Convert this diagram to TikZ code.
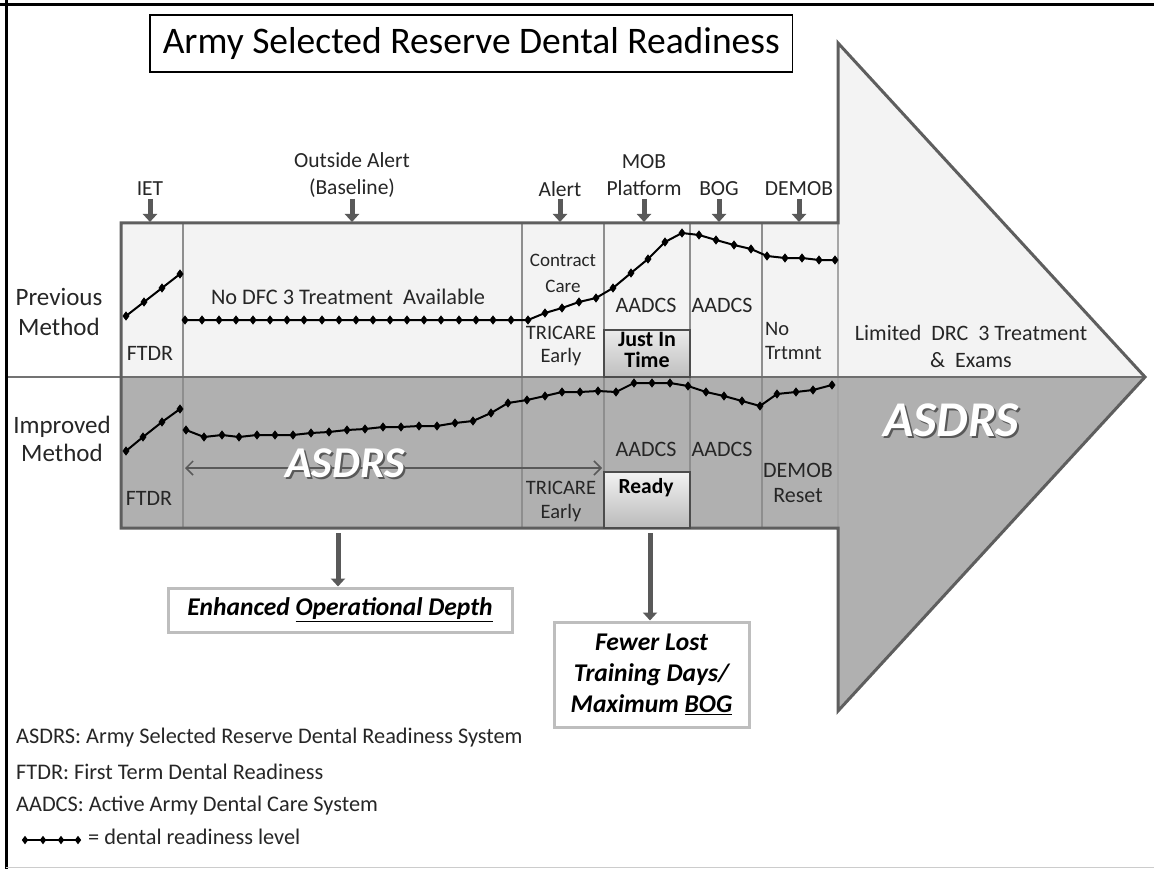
\documentclass[tikz,border=0pt]{standalone}
\usepackage{fontspec}
\setmainfont{Carlito}
\usetikzlibrary{arrows.meta,plotmarks}
\definecolor{lightband}{HTML}{F3F3F3}
\definecolor{darkband}{HTML}{B0B0B0}
\definecolor{outl}{HTML}{5E5E5E}
\definecolor{divc}{HTML}{8E8E8E}
\definecolor{arrc}{HTML}{595959}
\definecolor{boxb}{HTML}{BEBEBE}
\tikzset{
  toplbl/.style={font=\fontsize{21.5}{27}\selectfont, align=center, inner sep=0pt, text=black!85},
  celllbl/.style={font=\fontsize{22}{25}\selectfont, align=center, inner sep=0pt, text=black!85},
  sidelbl/.style={font=\fontsize{25}{30}\selectfont, align=center, inner sep=0pt, text=black!85},
  legendtxt/.style={font=\fontsize{22.3}{25}\selectfont, anchor=west, inner sep=0pt, text=black!85},
  downarr/.style={draw=arrc, line width=5pt, -{Triangle[length=8pt,width=14pt]}},
  bigwhite/.style={font=\fontsize{#1}{#1}\selectfont\bfseries\itshape, text=white, inner sep=0pt},
  shadowtxt/.style={font=\fontsize{#1}{#1}\selectfont\bfseries\itshape, text=black!65, inner sep=0pt},
  plotline/.style={line width=2pt, black, mark size=4.2pt, mark options={fill=black, draw=black, line width=0.5pt}},
  outbox/.style={draw=boxb, line width=3pt, fill=white, inner sep=0pt, font=\fontsize{25.5}{31}\selectfont\bfseries\itshape, align=center},
  shadebox/.style={draw=black!70, line width=1.5pt, top color=white!92!black, bottom color=black!25, inner sep=0pt},
  boldlbl/.style={font=\fontsize{22}{21}\selectfont\bfseries, align=center, inner sep=0pt}
}
\begin{document}
\begin{tikzpicture}[x=1pt,y=-1pt]
\fill[white] (0,0) rectangle (1154,869);
\useasboundingbox (0,0) rectangle (1154,869);
% slide frame
\draw[black, line width=3pt] (0,5) -- (1154,5);
\draw[black, line width=3pt] (6,0) -- (6,869);
\draw[black!20, line width=1pt] (6,867) -- (1154,867);
% title
\node[draw=black, line width=1.5pt, minimum height=57pt, inner ysep=0pt, inner xsep=13pt, anchor=west,
      font=\fontsize{37.5}{40}\selectfont] (title) at (149,43.5) {Army Selected Reserve Dental Readiness};
% coordinates
\coordinate (bandtop) at (0,222);
\coordinate (arrtop) at (0,199);
\coordinate (bandbot) at (0,533);
% fills
\fill[lightband] (121,223) rectangle (838,377);
\fill[lightband] (838,43) -- (1145,377) -- (838,377) -- cycle;
\fill[darkband] (121,377) rectangle (838,528);
\fill[darkband] (838,377) -- (1145,377) -- (838,711) -- cycle;
% dividers
\foreach \x in {183,522,604,690,762}{\draw[divc, line width=1.3pt] (\x,223) -- (\x,528);}
\draw[black!35, line width=1.2pt] (838,223) -- (838,528);
\draw[black!55, line width=1.5pt] (8,377) -- (121,377);
\draw[outl!90, line width=2pt] (121,377) -- (1145,377);
% outline
\draw[outl, line width=3pt, line join=miter] (121,223) -- (838,223) -- (838,43) -- (1145,377) -- (838,711) -- (838,528) -- (121,528) -- cycle;
% shaded boxes
\node[shadebox, minimum width=86pt, minimum height=47pt] (jit) at (647,353.5) {};
\node[boldlbl] (jittxt) at (647,350) {Just In\\Time};
\node[shadebox, minimum width=86pt, minimum height=56pt, top color=white!95!black, bottom color=black!27] (ready) at (647,500) {};
\node[boldlbl, font=\fontsize{21.5}{21}\selectfont\bfseries] (readytxt) at (646,488) {Ready};
% top labels and arrows
\node[toplbl] (iet) at (150,189) {IET};
\node[toplbl] (outside) at (352,175.5) {Outside Alert\\(Baseline)};
\node[toplbl] (alert) at (560,189) {Alert};
\node[toplbl] (mob) at (644,175.5) {MOB\\Platform};
\node[toplbl] (bog) at (719,189) {BOG};
\node[toplbl] (demob) at (799,189) {DEMOB};
\foreach \n in {iet,outside,alert,mob,bog,demob}{
  \draw[downarr] (\n.south |- arrtop) -- (\n.south |- bandtop);
}
% side labels
\node[sidelbl] (prev) at (59,312) {Previous\\Method};
\node[sidelbl, font=\fontsize{25}{28}\selectfont] (impr) at (62,439) {Improved\\Method};
% top band texts
\node[celllbl] (ftdrA) at (150,353) {FTDR};
\node[celllbl, font=\fontsize{22.3}{25}\selectfont] (nodfc) at (348,297) {No DFC 3 Treatment\ \ Available};
\node[celllbl, font=\fontsize{19}{26}\selectfont] (contract) at (563,273) {Contract\\Care};
\node[celllbl, font=\fontsize{20.5}{23}\selectfont] (tricareA) at (561,346) {TRICARE\\Early};
\node[celllbl] (aadcsA) at (646,305) {AADCS};
\node[celllbl] (aadcsB) at (722,305) {AADCS};
\node[celllbl, align=left, anchor=west, font=\fontsize{20.5}{24}\selectfont] (notrt) at (765,341) {No\\Trtmnt};
\node[celllbl, font=\fontsize{22}{27}\selectfont] (limited) at (971,346) {Limited\ \ DRC\ \ 3 Treatment\\\&\ \ Exams};
% bottom band texts
\node[celllbl] (ftdrB) at (149,498) {FTDR};
\node[celllbl] (aadcsC) at (646,449) {AADCS};
\node[celllbl] (aadcsD) at (722,449) {AADCS};
\node[celllbl, font=\fontsize{20.5}{24}\selectfont] (tricareB) at (561,501) {TRICARE\\Early};
\node[celllbl] (demobB) at (798,483) {DEMOB\\Reset};
% ASDRS double arrow
\coordinate (asl) at (185,468);
\coordinate (asr) at (602,468);
\draw[arrc, line width=1.5pt, {Straight Barb[length=7pt,width=14pt]}-{Straight Barb[length=7pt,width=14pt]}] (asl) -- (asr);
% ASDRS labels
\node[shadowtxt=44] (asdrsAsh) at (347,465) {ASDRS};
\node[bigwhite=44] (asdrsA) at (345,463) {ASDRS};
\node[shadowtxt=50] (asdrsBsh) at (953,422) {ASDRS};
\node[bigwhite=50] (asdrsB) at (951,420) {ASDRS};
% data plots: previous
\draw[plotline] plot[mark=diamond*] coordinates {(126,316) (144,302) (162,288) (180,274)};
\draw[plotline] plot[mark=diamond*] coordinates {(185,320) (202,320) (219,320) (236,320) (253,320) (270,320) (287,320) (304,320) (322,320) (339,320) (356,320) (373,320) (390,320) (407,320) (424,320) (441,320) (459,320) (476,320) (493,320) (511,320) (528,320) (545,313) (562,308) (579,302) (596,298) (613,288) (631,273) (648,259) (665,242) (682,233) (699,235) (716,240) (734,245) (751,249) (767,256) (785,258) (802,258) (819,260) (835,260)};
% data plots: improved
\draw[plotline] plot[mark=diamond*] coordinates {(126,451) (143,437) (162,422) (180,409)};
\draw[plotline] plot[mark=diamond*] coordinates {(186,430) (204,437) (222,435) (239,437) (257,435) (275,435) (293,435) (311,433) (329,432) (347,430) (365,429) (383,427) (401,427) (419,426) (437,426) (455,423) (473,421) (491,413) (508,403) (527,400) (545,396) (562,392) (580,392) (598,391) (616,392) (634,383) (652,383) (670,383) (688,386) (706,392) (724,396) (742,401) (760,406) (777,394) (796,392) (813,390) (832,385)};
% result boxes
\node[outbox, minimum width=344pt, minimum height=44pt] (enh) at (340,610) {Enhanced \underline{Operational Depth}};
\node[outbox, minimum width=195pt, minimum height=105pt] (fewer) at (651.5,674.5) {Fewer Lost\\Training Days/\\Maximum \underline{BOG}};
\coordinate (ea) at (338,533);
\coordinate (fa) at (650,533);
\draw[downarr] (ea) -- (ea |- enh.north);
\draw[downarr] (fa) -- (fa |- fewer.north);
% legend
\node[legendtxt] (legA) at (16,738) {ASDRS: Army Selected Reserve Dental Readiness System};
\node[legendtxt] (legB) at (16,772) {FTDR: First Term Dental Readiness};
\node[legendtxt] (legC) at (16,806) {AADCS: Active Army Dental Care System};
\draw[line width=1.5pt, black, mark size=3pt, mark options={fill=black}] plot[mark=diamond*] coordinates {(25,840) (43,840) (61,840) (78,840)};
\node[legendtxt] (legD) at (88,837) {= dental readiness level};
\end{tikzpicture}
\end{document}
